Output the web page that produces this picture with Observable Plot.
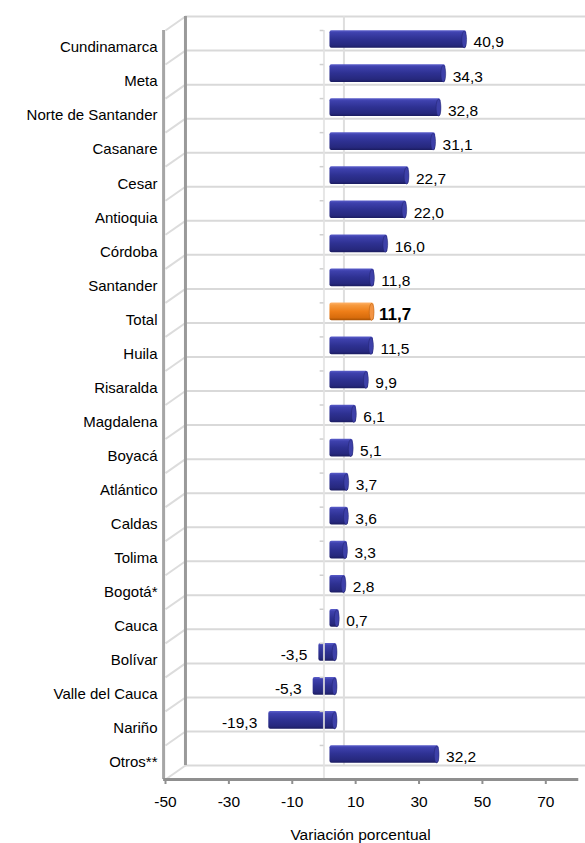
<!DOCTYPE html>
<html>
<head>
<meta charset="utf-8">
<script src="https://cdn.jsdelivr.net/npm/d3@7"></script>
<script src="https://cdn.jsdelivr.net/npm/@observablehq/plot@0.6"></script>
<style>
  html, body { margin: 0; padding: 0; background: #fff; overflow: hidden; }
  #chart svg { overflow: hidden; display: block; }
</style>
</head>
<body>
<div id="chart"></div>
<script>
// ---- data ----
const categories = ["Cundinamarca", "Meta", "Norte de Santander", "Casanare", "Cesar", "Antioquia",
  "Córdoba", "Santander", "Total", "Huila", "Risaralda", "Magdalena", "Boyacá", "Atlántico",
  "Caldas", "Tolima", "Bogotá*", "Cauca", "Bolívar", "Valle del Cauca", "Nariño", "Otros**"];
const values = [40.9, 34.3, 32.8, 31.1, 22.7, 22.0, 16.0, 11.8, 11.7, 11.5, 9.9, 6.1, 5.1, 3.7,
  3.6, 3.3, 2.8, 0.7, -3.5, -5.3, -19.3, 32.2];
const highlighted = ["Total"];
const xTicks = [-50, -30, -10, 10, 30, 50, 70];
const xDomain = [-50, 80];
const xTitle = "Variación porcentual";

// ---- derived table ----
const data = categories.map((c, i) => ({ cat: c, i, v: values[i], hi: highlighted.includes(c) }));
const rows = categories.length;
const yDomain = [-0.5, rows - 0.5];
const boundaries = d3.range(rows + 1).map(k => k - 0.5);
const DX = 6.3;   // 3D depth in value units
const DY = 0.41;  // 3D depth in row units
const HALF = 0.26; // half bar thickness in row units
const fmt = v => (v < 0 ? "-" : "") + Math.abs(v).toFixed(1).replace(".", ",");

const ellipse = {
  draw(ctx) {
    const rx = 2.4, ry = 8.4, k = 0.5523;
    ctx.moveTo(rx, 0);
    ctx.bezierCurveTo(rx, ry * k, rx * k, ry, 0, ry);
    ctx.bezierCurveTo(-rx * k, ry, -rx, ry * k, -rx, 0);
    ctx.bezierCurveTo(-rx, -ry * k, -rx * k, -ry, 0, -ry);
    ctx.bezierCurveTo(rx * k, -ry, rx, -ry * k, rx, 0);
    ctx.closePath();
  }
};

const font = "'Liberation Sans', Arial, sans-serif";
const barOpts = { x1: 0, x2: "v", y1: d => d.i - HALF, y2: d => d.i + HALF, dx: 6, dy: -8, insetRight: -7, rx: 2 };
const capOpts = { x: d => Math.max(d.v, 0), y: "i", dx: 10.6, dy: -8, symbol: ellipse, strokeWidth: 0.5 };

const chart = Plot.plot({
  width: 585,
  height: 843,
  marginTop: 30,
  marginBottom: 64,
  marginLeft: 165,
  marginRight: 8,
  style: { fontFamily: font, fontSize: "15px", color: "#000", background: "#fff", overflow: "hidden" },
  x: { domain: xDomain },
  y: { domain: yDomain, reverse: true },
  marks: [
    // back wall gridlines
    Plot.ruleY(boundaries, { y: d => d - DY, x1: xDomain[0] + DX, x2: xDomain[1] + DX, stroke: "#d9d9d9", strokeWidth: 2 }),
    // back zero line
    Plot.ruleX([0], { x: d => d + DX, y1: yDomain[0] - DY, y2: yDomain[1] - DY, stroke: "#dedede", strokeWidth: 2 }),
    // left wall: diagonals
    Plot.link(boundaries, { x1: xDomain[0], y1: d => d, x2: xDomain[0] + DX, y2: d => d - DY, stroke: "#dcdcdc", strokeWidth: 2 }),
    // left wall back edge
    Plot.ruleX([xDomain[0] + DX], { y1: yDomain[0] - DY, y2: yDomain[1] - DY, stroke: "#9a9a9a", strokeWidth: 3 }),
    // left wall front edge
    Plot.ruleX([xDomain[0] - 0.6], { y1: yDomain[0], y2: yDomain[1], stroke: "#a6a6a6", strokeWidth: 3 }),
    // bars
    Plot.rect(data.filter(d => !d.hi), { ...barOpts, fill: "#2e3192", className: "bar-blue" }),
    Plot.rect(data.filter(d => d.hi), { ...barOpts, fill: "#ec7c16", className: "bar-orange" }),
    // bar end caps
    Plot.dot(data.filter(d => !d.hi), { ...capOpts, fill: "#3d40a8", stroke: "#23256f" }),
    Plot.dot(data.filter(d => d.hi), { ...capOpts, fill: "#f39443", stroke: "#b35808" }),
    // front zero line with small ticks
    Plot.ruleX([0], { y1: yDomain[0], y2: yDomain[1], stroke: "#e2e2e2", strokeWidth: 2, strokeOpacity: 0.85 }),
    Plot.ruleY(boundaries, { y: d => d, x1: -1.2, x2: 0, stroke: "#cfcfcf", strokeWidth: 1.5 }),
    // bottom axis line
    Plot.ruleY([yDomain[1]], { x1: xDomain[0] - 0.6, x2: xDomain[1] + 0.4, stroke: "#8f8f8f", strokeWidth: 3 }),
    // x axis
    Plot.axisX({ ticks: xTicks, tickFormat: d => String(d), tickSize: 5, tickPadding: 11, stroke: "#8f8f8f", strokeWidth: 2, fontSize: 15.5, label: null }),
    // y axis (category labels)
    Plot.axisY({ ticks: d3.range(rows), tickFormat: i => categories[i], tickSize: 0, tickPadding: 8, fontSize: 15, label: null }),
    // value labels
    Plot.text(data.filter(d => d.v >= 0 && !d.hi), { x: "v", y: "i", text: d => fmt(d.v), dx: 20, dy: -5, textAnchor: "start", fontSize: 15.5 }),
    Plot.text(data.filter(d => d.v < 0), { x: "v", y: "i", text: d => fmt(d.v), dx: -5.5, dy: -5, textAnchor: "end", fontSize: 15.5 }),
    Plot.text(data.filter(d => d.hi), { x: "v", y: "i", text: d => fmt(d.v), dx: 18, dy: -5, textAnchor: "start", fontSize: 17, fontWeight: "bold" }),
    // x title
    Plot.text([xTitle], { frameAnchor: "bottom", dx: -11, dy: 60, fontSize: 15.5 })
  ]
});

// gradients for cylinder look
const svg = d3.select(chart);
const defs = svg.insert("defs", ":first-child");
function grad(id, stops) {
  const g = defs.append("linearGradient").attr("id", id).attr("x1", 0).attr("y1", 0).attr("x2", 0).attr("y2", 1);
  stops.forEach(([o, c]) => g.append("stop").attr("offset", o).attr("stop-color", c));
}
grad("gBlue", [["0%", "#5b5ecb"], ["14%", "#3e41ad"], ["50%", "#2e3192"], ["85%", "#26287d"], ["100%", "#1b1c60"]]);
grad("gOrange", [["0%", "#ffb36b"], ["15%", "#f69a3f"], ["50%", "#ee7e18"], ["85%", "#d86c0c"], ["100%", "#a65205"]]);
svg.selectAll(".bar-blue rect").attr("fill", "url(#gBlue)");
svg.selectAll(".bar-orange rect").attr("fill", "url(#gOrange)");

document.getElementById("chart").appendChild(chart);
</script>
</body>
</html>
